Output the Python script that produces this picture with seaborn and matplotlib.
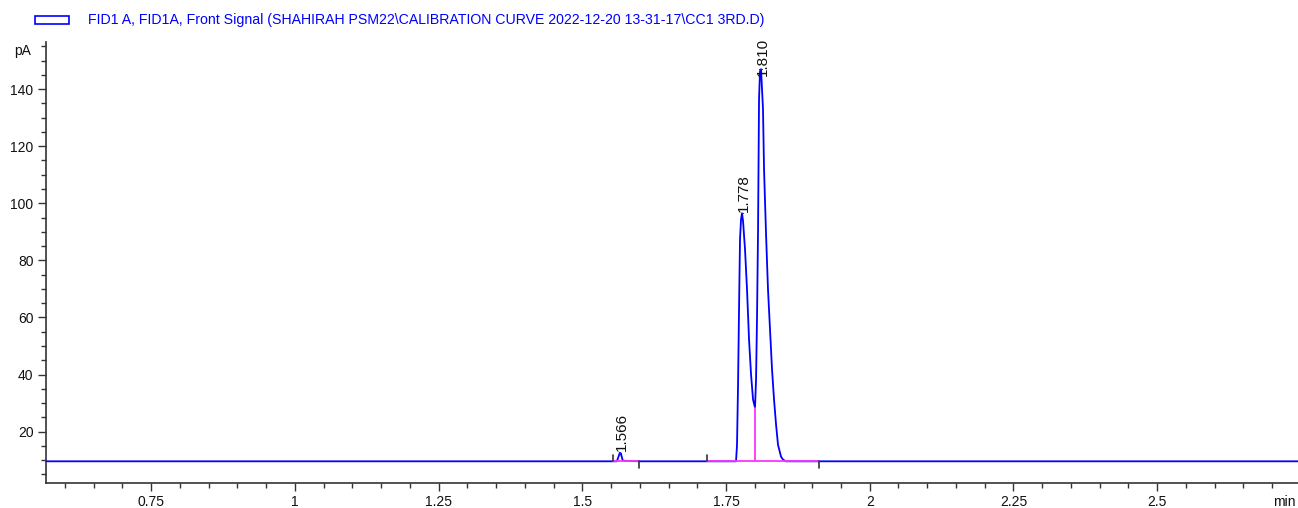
import matplotlib
matplotlib.use("Agg")
import matplotlib.pyplot as plt
import seaborn as sns
import pandas as pd
from matplotlib.ticker import MultipleLocator, FixedLocator

# chromatogram trace (time in min, signal in pA)
time_min = [0.567, 1.555, 1.5600, 1.5635, 1.5652, 1.5670, 1.5704, 1.600,
            1.7674, 1.7691, 1.7709, 1.7726, 1.7743, 1.7761, 1.7778, 1.7796,
            1.7830, 1.7865, 1.7900, 1.7935, 1.7970, 1.8004, 1.8022, 1.8039,
            1.8057, 1.8074, 1.8091, 1.8109, 1.8143, 1.8161, 1.8196, 1.8230,
            1.8265, 1.8300, 1.8335, 1.8370, 1.8404, 1.8457, 1.8491, 1.8543,
            2.750]
signal_pa = [9.6, 9.6, 9.6, 11.5, 12.6, 12.4, 9.8, 9.6,
             9.6, 15.4, 36.5, 62.8, 87.4, 94.4, 96.5, 93.7,
             83.9, 69.8, 52.3, 40.0, 31.2, 28.4, 38.2, 60.0,
             90.9, 136.5, 146.3, 147.0, 133.0, 111.9, 89.1, 69.8,
             55.8, 41.8, 31.2, 22.5, 15.4, 11.2, 10.2, 9.6,
             9.6]

peak_times = [1.566, 1.778, 1.810]
peak_heights = [12.6, 96.5, 147.0]
peak_labels = ["1.566", "1.778", "1.810"]
label_lift = [1, 1, -5]  # points; the top label sits over its apex

# integration baselines (start, end) and drop line
baseline_segments = [(1.553, 1.599), (1.717, 1.912)]
baseline_level = 9.6
drop_time = 1.8004
drop_top = 28.4

legend_text = r"FID1 A, FID1A, Front Signal (SHAHIRAH PSM22\CALIBRATION CURVE 2022-12-20 13-31-17\CC1 3RD.D)"

sns.set_style("ticks")
plt.rcParams['font.family'] = ['Liberation Sans', 'DejaVu Sans']

fig = plt.figure(figsize=(12.98, 5.08), dpi=100)
ax = fig.add_axes([46 / 1298, 25 / 508, 1 - 46 / 1298, (483 - 42) / 508])

df = pd.DataFrame({"time": time_min, "signal": signal_pa})
sns.lineplot(data=df, x="time", y="signal", ax=ax, color="#0000ff",
             linewidth=1.3, sort=False, zorder=3)

for start, end in baseline_segments:
    ax.plot([start, end], [baseline_level, baseline_level], color="#ff33ff",
            linewidth=1.3, zorder=4)
    ax.plot([start, start], [baseline_level, baseline_level + 2.2], color="#333333", linewidth=1.2, zorder=5)
    ax.plot([end, end], [baseline_level, baseline_level - 2.2], color="#333333", linewidth=1.2, zorder=5)
ax.plot([drop_time, drop_time], [baseline_level, drop_top], color="#ff33ff", linewidth=1.3, zorder=4)

for t, h, lab, lift in zip(peak_times, peak_heights, peak_labels, label_lift):
    ax.annotate(lab, (t, h), xytext=(1.5, lift), textcoords="offset points", rotation=90,
                ha="center", va="bottom", fontsize=11, color="#111111")
    ax.plot([t - 0.002, t + 0.002], [h, h], color="#333333", linewidth=0.8, zorder=5)

ax.set_xlim(0.567, 2.745)
ax.set_ylim(2.0, 156.5)
ax.xaxis.set_major_locator(FixedLocator([0.75, 1, 1.25, 1.5, 1.75, 2, 2.25, 2.5]))
ax.set_xticklabels(["0.75", "1", "1.25", "1.5", "1.75", "2", "2.25", "2.5"])
ax.xaxis.set_minor_locator(MultipleLocator(0.05))
ax.yaxis.set_major_locator(FixedLocator([20, 40, 60, 80, 100, 120, 140]))
ax.yaxis.set_minor_locator(MultipleLocator(5))
ax.tick_params(axis="both", which="major", length=6, width=1, color="#333333",
               labelsize=10, labelcolor="#111111", pad=3)
ax.tick_params(axis="both", which="minor", length=3.5, width=1, color="#333333")
ax.set_xlabel("")
ax.set_ylabel("")
sns.despine(ax=ax)
for side in ["left", "bottom"]:
    ax.spines[side].set_color("#333333")
    ax.spines[side].set_linewidth(1.2)

ax.text(-0.012, 153.5, "pA", transform=ax.get_yaxis_transform(), ha="right", va="center",
        fontsize=10, color="#111111")
ax.text(2.702, -0.028, "min", transform=ax.get_xaxis_transform(), ha="left", va="top",
        fontsize=10, color="#111111", clip_on=False)

# legend line at the top
fig.patches.append(plt.Rectangle((35 / 1298, 1 - 24 / 508), 34 / 1298, 8 / 508,
                                 transform=fig.transFigure, fill=False,
                                 edgecolor="#0000ff", linewidth=1.2))
fig.text(88 / 1298, 1 - 20 / 508, legend_text, ha="left", va="center", fontsize=10.2,
         color="#0000ff")

fig.savefig("out.png", dpi=100)
